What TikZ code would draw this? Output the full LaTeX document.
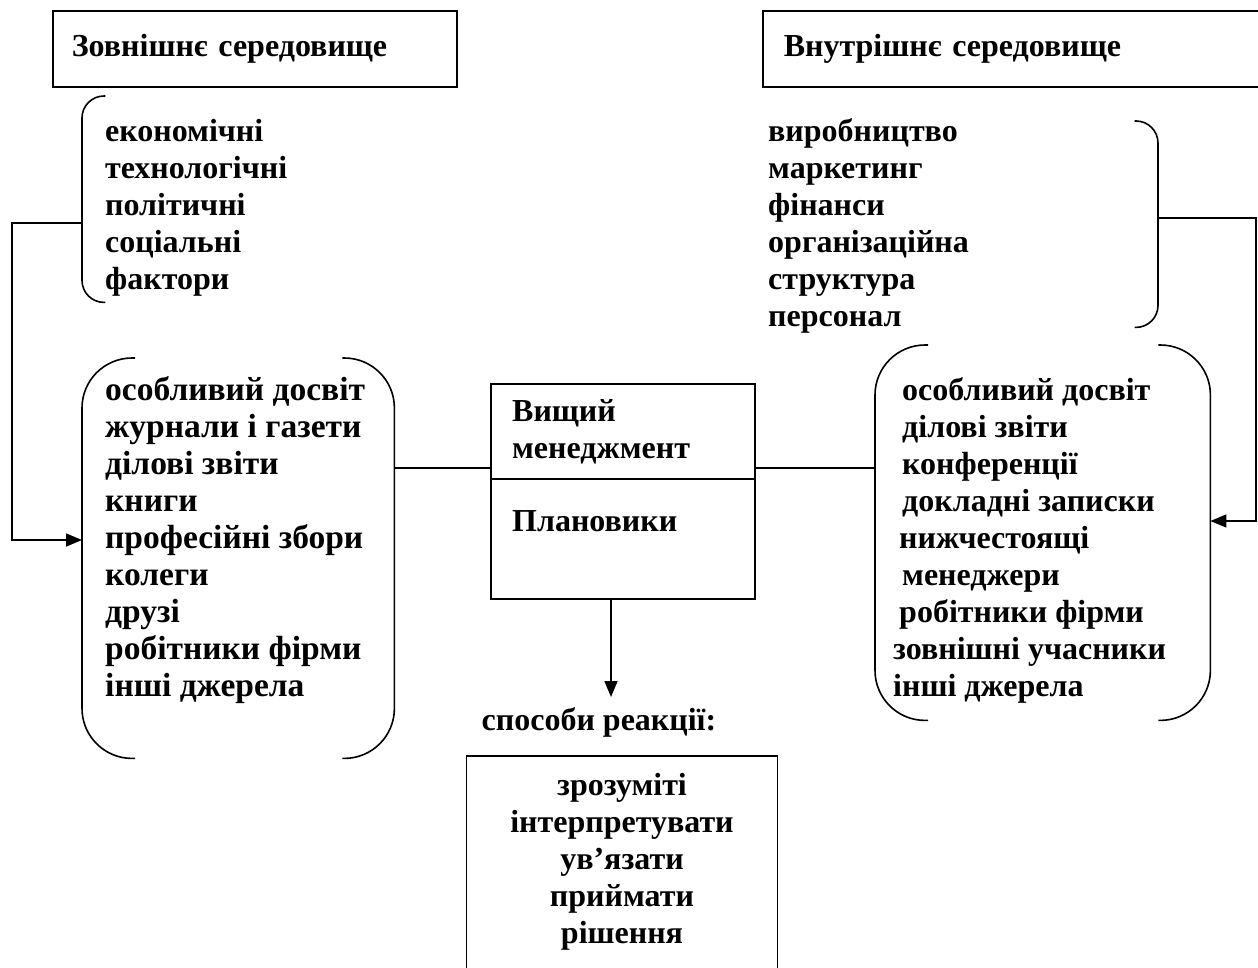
\documentclass[tikz,border=0pt]{standalone}
\usepackage{fontspec}
\setmainfont{Liberation Serif}
\usetikzlibrary{arrows.meta,positioning}
\tikzset{
    basic/.style = {font=\fontsize{32}{37}\selectfont\bfseries},
    plain box/.style = {basic, draw, rectangle, line width=1.6pt},
    frame/.style = {rectangle, draw=none, inner sep=0pt},
    list text/.style = {basic, align=left, inner sep=0pt, anchor=base west},
    centre text/.style = {basic, align=center, inner sep=0pt, anchor=base},
    link/.style = {line width=1.6pt},
    bracket/.style = {line width=1.6pt}
}
\begin{document}
\begin{tikzpicture}[x=1pt, y=-1pt, >={Triangle[length=16pt,width=13pt]}]
    \clip (0,0) rectangle (1258,967);
    % environments
    \node[plain box, anchor=north west, minimum width=404pt, minimum height=76pt,
        text width=366pt, inner xsep=19pt, align=left] (outer env) at (52,10) {Зовнішнє середовище};
    \node[plain box, anchor=north west, minimum width=520pt, minimum height=76pt,
        text width=478pt, inner xsep=21pt, align=left] (inner env) at (762,10) {Внутрішнє середовище};
    % factors (base = last line)
    \node[list text] (outer factors) at (105,289) {економічні\\технологічні\\політичні\\соціальні\\фактори};
    \node[list text] (inner factors) at (768,326) {виробництво\\маркетинг\\фінанси\\організаційна\\структура\\персонал};
    \node[frame, anchor=north west, minimum width=23pt, minimum height=206pt] (outer brace) at (82,96) {};
    \node[frame, anchor=north east, minimum width=23pt, minimum height=206pt] (inner brace) at (1158,121) {};
    \draw[bracket, rounded corners=22pt] (outer brace.north east) -- (outer brace.north west)
        -- (outer brace.south west) -- (outer brace.south east);
    \draw[bracket, rounded corners=22pt] (inner brace.north west) -- (inner brace.north east)
        -- (inner brace.south east) -- (inner brace.south west);
    % sources
    \node[frame, anchor=north west, minimum width=312pt, minimum height=400pt] (outer src) at (82,358) {};
    \node[frame, anchor=north west, minimum width=335pt, minimum height=375pt] (inner src) at (875,345) {};
    \draw[bracket, rounded corners=50pt] ([xshift=53pt]outer src.north west) -- (outer src.north west)
        -- (outer src.south west) -- ([xshift=53pt]outer src.south west);
    \draw[bracket, rounded corners=50pt] ([xshift=-52pt]outer src.north east) -- (outer src.north east)
        -- (outer src.south east) -- ([xshift=-52pt]outer src.south east);
    \draw[bracket, rounded corners=50pt] ([xshift=53pt]inner src.north west) -- (inner src.north west)
        -- (inner src.south west) -- ([xshift=53pt]inner src.south west);
    \draw[bracket, rounded corners=50pt] ([xshift=-52pt]inner src.north east) -- (inner src.north east)
        -- (inner src.south east) -- ([xshift=-52pt]inner src.south east);
    \node[list text, font=\fontsize{33.5}{37}\selectfont\bfseries] (outer list) at (105,696) {особливий досвіт\\журнали і газети\\ділові звіти\\книги\\професійні збори\\колеги\\друзі\\робітники фірми\\інші джерела};
    \node[list text] (inner list) at (893,696) {\hspace*{9pt}особливий досвіт\\\hspace*{9pt}ділові звіти\\\hspace*{9pt}конференції\\\hspace*{9pt}докладні записки\\\hspace*{6pt}нижчестоящі\\\hspace*{9pt}менеджери\\\hspace*{6pt}робітники фірми\\зовнішні учасники\\інші джерела};
    % management
    \node[plain box, anchor=north west, minimum width=264pt, minimum height=215pt] (mgmt) at (490,383) {};
    \coordinate (split) at (0,479);
    \draw[link] (mgmt.west |- split) -- (mgmt.east |- split);
    \node[list text] (top mgmt) at (512,458) {Вищий\\менеджмент};
    \node[list text] (planners) at (512,531) {Плановики};
    \coordinate (tie) at (0,468);
    \draw[link] (outer src.east |- tie) -- (mgmt.west |- tie);
    \draw[link] (mgmt.east |- tie) -- (inner src.west |- tie);
    % feedback
    \coordinate (out tap) at (0,223);
    \coordinate (out rail) at (12,540);
    \draw[link,->] (outer brace.west |- out tap) -| (out rail) -- (outer src.west |- out rail);
    \coordinate (in tap) at (0,218);
    \coordinate (in rail) at (1256,521);
    \draw[link,->] (inner brace.east |- in tap) -| (in rail) -- (inner src.east |- in rail);
    % reactions
    \coordinate (drop) at (611,697);
    \draw[link,->] (mgmt.south -| drop) -- (drop);
    \node[centre text] (reactions) at (599,730) {способи реакції:};
    \node[plain box, anchor=north, minimum width=311pt, minimum height=260pt] (response) at (622,755) {};
    \node[centre text] (steps) at (622,943) {зрозуміті\\інтерпретувати\\ув’язати\\приймати\\рішення};
\end{tikzpicture}
\end{document}
